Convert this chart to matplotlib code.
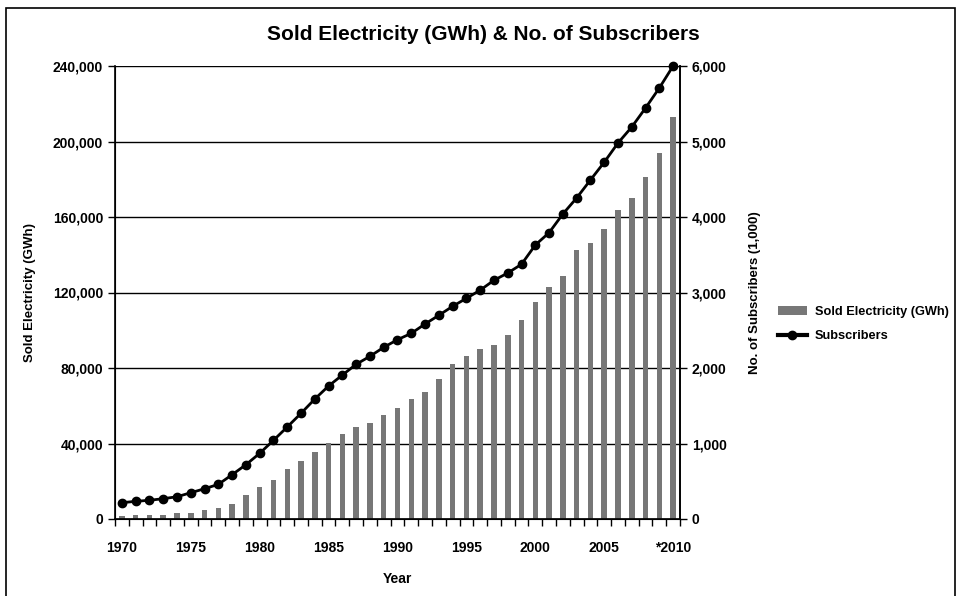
import matplotlib.pyplot as plt
from matplotlib.patches import Rectangle
from matplotlib.ticker import FuncFormatter

plt.rcParams['font.family'] = ['Liberation Sans', 'DejaVu Sans']
plt.rcParams['font.weight'] = 'bold'

years = list(range(1970, 2011))
year_labels = ['1970', '1975', '1980', '1985', '1990', '1995', '2000', '2005', '*2010']

# Sold electricity (GWh)
sold = [1700, 1900, 2000, 2300, 3400, 3400, 5000, 6000, 8100, 12900,
        17100, 20800, 26500, 30800, 35600, 40300, 45100, 48900, 51000, 55200,
        59000, 63700, 67500, 74400, 82300, 86200, 89900, 92200, 97500, 105500,
        115000, 123000, 128700, 142500, 146200, 153600, 163700, 170000, 181200, 194000,
        212800]

# Subscribers (1,000)
subs = [216, 234, 248, 269, 295, 348, 401, 459, 587, 719,
        870, 1042, 1219, 1400, 1589, 1762, 1907, 2049, 2155, 2274,
        2375, 2459, 2583, 2698, 2817, 2923, 3031, 3162, 3258, 3374,
        3629, 3792, 4040, 4252, 4490, 4725, 4980, 5192, 5444, 5709,
        6000]

fig = plt.figure(figsize=(9.58, 5.96), dpi=100)
# frame around the chart (bottom edge falls outside the image)
fig.patches.append(Rectangle((6 / 958, -10 / 596), 949 / 958, 598 / 596,
                             transform=fig.transFigure, fill=False,
                             edgecolor='black', linewidth=1.2))

ax = fig.add_axes([115 / 958, 1 - 519 / 596, 565 / 958, 453 / 596])
x = list(range(len(years)))

ax.bar(x, sold, width=0.4, color='#777777', label='Sold Electricity (GWh)', zorder=2)
ax.set_xlim(-0.5, len(years) - 0.5)
ax.set_ylim(0, 240000)
ax.set_yticks(range(0, 240001, 40000))
ax.yaxis.set_major_formatter(FuncFormatter(lambda v, p: f'{int(v):,}'))
ax.grid(axis='y', color='black', linewidth=1, zorder=1)
ax.set_axisbelow(True)

ax.set_xticks([years.index(int(l.strip('*'))) for l in year_labels])
ax.set_xticklabels(year_labels)
ax.set_xticks([i - 0.5 for i in range(len(years) + 1)], minor=True)
ax.tick_params(axis='x', which='major', length=0, pad=16, labelsize=10)
ax.tick_params(axis='x', which='minor', length=5, width=1, direction='out')
ax.tick_params(axis='y', length=5, width=1, labelsize=10)
ax.spines['top'].set_visible(False)
for s in ['left', 'bottom', 'right']:
    ax.spines[s].set_linewidth(1.2)

ax.set_xlabel('Year', fontsize=10, fontweight='bold', labelpad=12)
ax.set_ylabel('Sold Electricity (GWh)', fontsize=9.5, fontweight='bold', labelpad=12)

ax2 = ax.twinx()
ax2.plot(x, subs, color='black', linewidth=2, marker='o', markersize=6,
         label='Subscribers', clip_on=False, zorder=3)
ax2.set_ylim(0, 6000)
ax2.set_yticks(range(0, 6001, 1000))
ax2.yaxis.set_major_formatter(FuncFormatter(lambda v, p: f'{int(v):,}'))
ax2.tick_params(axis='y', length=5, width=1, labelsize=10)
ax2.spines['top'].set_visible(False)
ax2.spines['right'].set_linewidth(1.2)
ax2.set_ylabel('No. of Subscribers (1,000)', fontsize=9.5, fontweight='bold', labelpad=16)

fig.suptitle('Sold Electricity (GWh) & No. of Subscribers', x=483 / 958, y=1 - 34 / 596,
             fontsize=15, fontweight='bold', va='center')

h1, l1 = ax.get_legend_handles_labels()
h2, l2 = ax2.get_legend_handles_labels()
leg = fig.legend(h1 + h2, l1 + l2, loc='center left', bbox_to_anchor=(766 / 958, 1 - 324 / 596),
                 frameon=False, fontsize=9.2, handlelength=2.3, handletextpad=0.6,
                 labelspacing=1.0)
leg.get_lines()[0].set_linewidth(3)

plt.savefig('out.png', dpi=100)
